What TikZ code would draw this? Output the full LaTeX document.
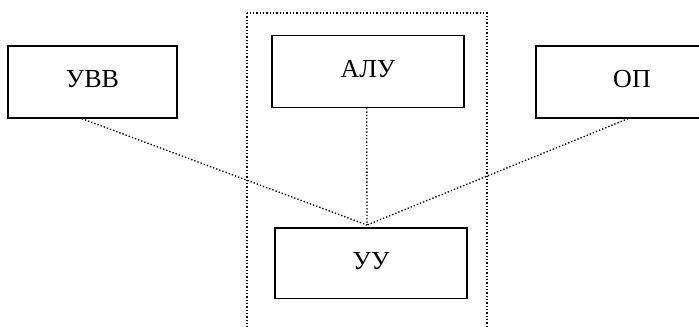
\documentclass[tikz,border=0pt]{standalone}
\usepackage{fontspec}
\setmainfont{Liberation Serif}
\usetikzlibrary{positioning}

\begin{document}
\begin{tikzpicture}[
    x=0.75pt, y=-0.75pt,
    font=\fontsize{19.5}{22}\selectfont,
    unit/.style={draw, line width=1pt, minimum width=144pt, minimum height=54pt, inner sep=0pt, text depth=4.5pt, align=center},
    link/.style={line width=1pt, dash pattern=on 1pt off 1.5pt}
]
\useasboundingbox (0,0) rectangle (699,327);

% processor frame (runs off the bottom)
\draw[link] (247,13) rectangle (487,345);

% units
\node[unit, minimum width=126.75pt] (uvv) at (92.5,82) {УВВ};
\node[unit] (alu) at (368,71.5) {АЛУ};
\node[unit] (op) at (632,82) {ОП};
\node[unit, minimum width=144pt, minimum height=53pt] (uu) at (371,263.5) {УУ};

\coordinate (hub) at (367,225);

% links to the control unit
\draw[link] ([xshift=-8pt]uvv.south) -- (hub);
\draw[link] ([xshift=-1pt]alu.south) -- (hub);
\draw[link] ([xshift=-3pt]op.south) -- (hub);

\end{tikzpicture}
\end{document}
